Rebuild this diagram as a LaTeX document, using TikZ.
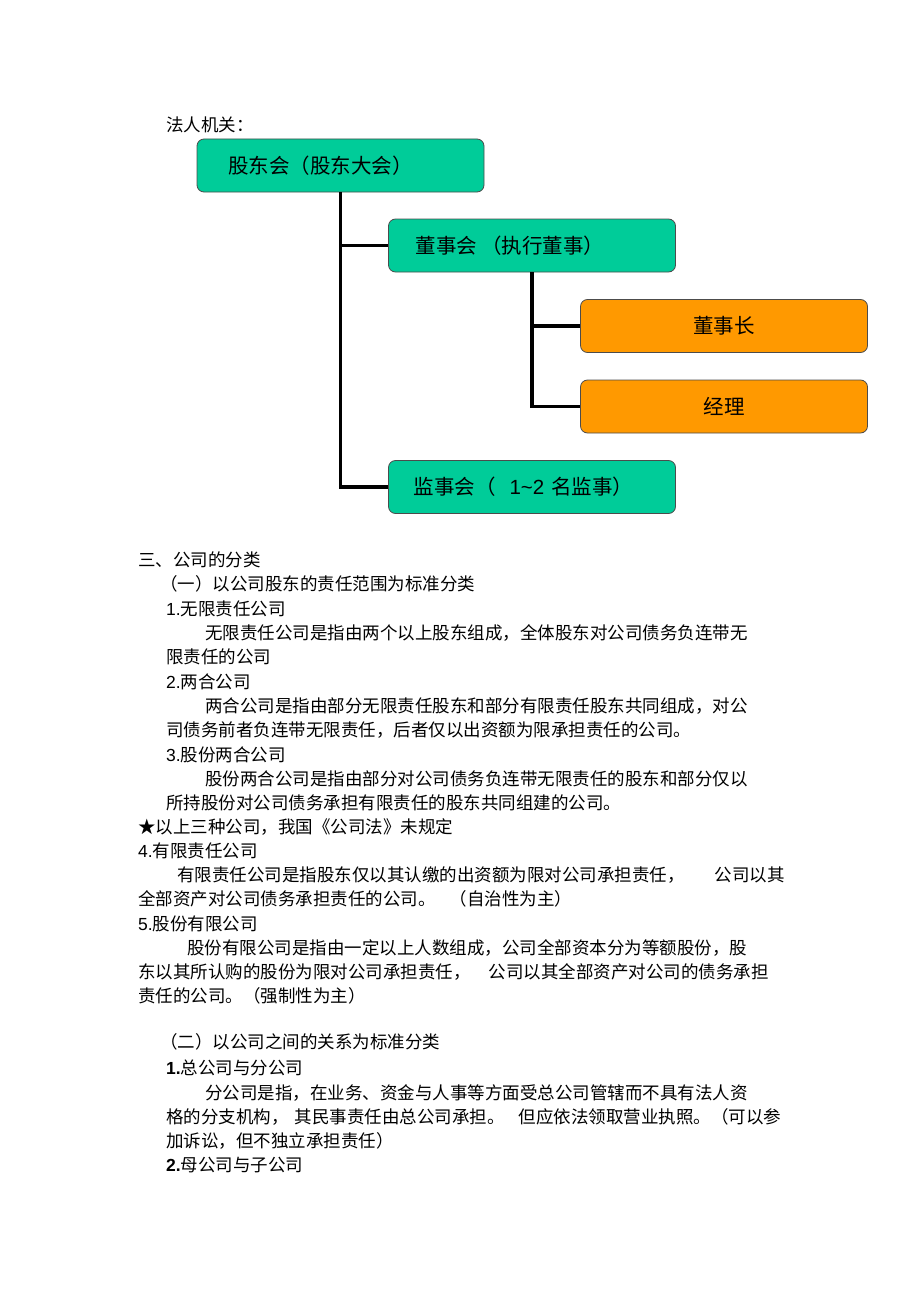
\documentclass[tikz,border=0pt]{standalone}
\usepackage{fontspec}
\setmainfont{Noto Sans CJK SC}
\newfontfamily\lat{Liberation Sans}
\usepackage{tikz}
\usetikzlibrary{positioning}
\definecolor{boxteal}{RGB}{0,204,153}
\definecolor{boxorange}{RGB}{255,153,0}

\begin{document}
\begin{tikzpicture}[x=1pt,y=-1pt,
    box/.style={draw=black!70, line width=0.8pt, rounded corners=7pt, minimum width=287pt, minimum height=53pt, font=\fontsize{20.5}{24}\selectfont},
    tealbox/.style={box, fill=boxteal},
    orangebox/.style={box, fill=boxorange},
    conn/.style={line width=3.2pt},
    body/.style={anchor=west, inner sep=0pt, font=\fontsize{17.5}{21}\selectfont}]
    \useasboundingbox (0,0) rectangle (920,1303);
    \node[body] (title) at (166,125) {法人机关：};
    \node[tealbox, text width=225pt, inner xsep=31pt, align=left] (gdh) at (340.5,165.5) {股东会（股东大会）};
    \node[tealbox, text width=233pt, inner xsep=27pt, align=left] (dsh) at (532,245.5) {董事会\hspace{4pt}（执行董事）};
    \node[orangebox] (dsz) at (724,326) {董事长};
    \node[orangebox] (jl) at (724,406.5) {经理};
    \node[tealbox, text width=237pt, inner xsep=25pt, align=left] (jsh) at (532,487) {监事会（\hspace{14pt}{\lat 1\textasciitilde 2} 名监事）};
    \draw[conn] (gdh.south) |- (jsh.west);
    \draw[conn] (gdh.south |- dsh.west) -- (dsh.west);
    \draw[conn] (dsh.south) |- (jl.west);
    \draw[conn] (dsh.south |- dsz.west) -- (dsz.west);
    \foreach \lx/\ly/\ltext [count=\i] in {
        138/560/三、公司的分类,
        160/584/（一）以公司股东的责任范围为标准分类,
        166/609/{\lat 1.}无限责任公司,
        205/633/无限责任公司是指由两个以上股东组成，全体股东对公司债务负连带无,
        166/657/限责任的公司,
        166/682/{\lat 2.}两合公司,
        205/706/两合公司是指由部分无限责任股东和部分有限责任股东共同组成，对公,
        166/730/司债务前者负连带无限责任，后者仅以出资额为限承担责任的公司。,
        166/755/{\lat 3.}股份两合公司,
        205/779/股份两合公司是指由部分对公司债务负连带无限责任的股东和部分仅以,
        166/803/所持股份对公司债务承担有限责任的股东共同组建的公司。,
        138/827/★以上三种公司，我国《公司法》未规定,
        138/851/{\lat 4.}有限责任公司,
        177/875/有限责任公司是指股东仅以其认缴的出资额为限对公司承担责任，\hspace{30pt}公司以其,
        138/899/全部资产对公司债务承担责任的公司。\hspace{14pt}（自治性为主）,
        138/924/{\lat 5.}股份有限公司,
        187/948/股份有限公司是指由一定以上人数组成，公司全部资本分为等额股份，股,
        138/972/东以其所认购的股份为限对公司承担责任，\hspace{18pt}公司以其全部资产对公司的债务承担,
        138/996/责任的公司。（强制性为主）,
        160/1042/（二）以公司之间的关系为标准分类,
        166/1068/{\lat\bfseries 1.}总公司与分公司,
        205/1093/分公司是指，在业务、资金与人事等方面受总公司管辖而不具有法人资,
        166/1117/格的分支机构，\hspace{6pt}其民事责任由总公司承担。\hspace{14pt}但应依法领取营业执照。（可以参,
        166/1141/加诉讼，但不独立承担责任）,
        166/1165/{\lat\bfseries 2.}母公司与子公司}
        \node[body] (line\i) at (\lx,\ly) {\ltext};
\end{tikzpicture}
\end{document}
